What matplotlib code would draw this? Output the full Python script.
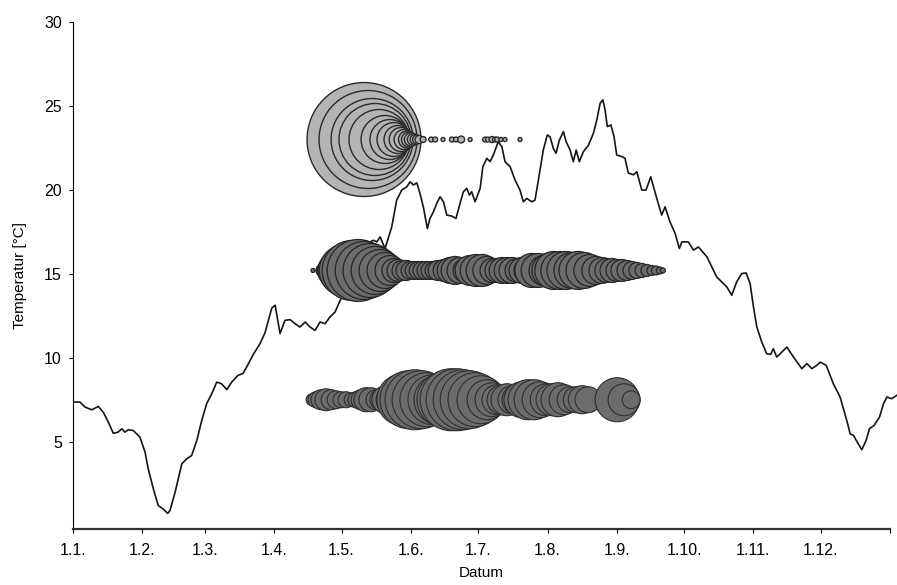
import matplotlib
matplotlib.use("Agg")
from matplotlib import pyplot as plt

plt.rcParams['font.family'] = ['Liberation Sans', 'DejaVu Sans']

# temperature curve: day of year / degC
temp_day = [0.4, 3.1, 5.4, 8.4, 11.3, 13.5, 15.8, 18.0, 20.2, 21.8, 23.2, 24.7, 26.9, 29.9,
            32.2, 33.6, 35.9, 38.1, 40.3, 42.3, 43.3, 45.6, 48.6, 50.8, 53.0, 55.3, 57.5,
            59.7, 62.0, 64.2, 66.4, 68.7, 70.9, 73.7, 76.0, 78.2, 80.4, 83.6, 85.8, 88.8,
            90.3, 92.5, 94.7, 97.0, 99.2, 101.4, 103.7, 105.9, 108.1, 110.4, 112.6, 114.8,
            117.1, 119.3, 122.9, 126.0, 129.1, 132.7, 134.2, 135.7, 137.2, 139.4, 142.4,
            144.6, 146.9, 149.1, 150.6, 152.1, 153.6, 155.0, 156.5, 158.3, 159.5, 161.0,
            162.5, 164.0, 165.5, 167.0, 169.2, 171.1, 172.9, 174.4, 175.9, 177.1, 178.1,
            179.6, 181.9, 183.1, 184.9, 186.3, 187.8, 190.0, 191.6, 193.0, 195.3, 197.5,
            199.7, 201.2, 202.7, 205.0, 206.4, 207.9, 210.1, 211.9, 213.1, 214.6, 215.8,
            217.3, 219.1, 220.3, 222.1, 223.5, 224.8, 226.2, 228.0, 230.3, 232.5, 234.0,
            235.5, 236.7, 237.7, 238.7, 240.3, 241.7, 242.9, 245.2, 246.6, 248.1, 250.4,
            251.9, 254.1, 256.0, 258.1, 260.8, 263.0, 264.5, 266.7, 269.0, 270.9, 272.0,
            274.9, 277.2, 279.4, 283.2, 287.6, 292.1, 294.3, 296.5, 298.8, 300.7, 302.5,
            304.0, 305.5, 307.7, 309.9, 311.7, 312.9, 314.4, 316.7, 318.9, 321.9, 325.6,
            327.9, 330.1, 332.3, 333.8, 336.5, 339.7, 342.7, 345.7, 347.2, 348.7, 350.4,
            352.4, 354.3, 355.8, 357.9, 360.3, 362.1, 363.6, 365.8, 368.0]
temp_val = [7.36, 7.36, 7.06, 6.9, 7.1, 6.76, 6.16, 5.5, 5.57, 5.77, 5.57, 5.71, 5.67, 5.27,
            4.37, 3.38, 2.19, 1.19, 0.99, 0.73, 0.89, 1.99, 3.68, 3.98, 4.18, 5.07, 6.26,
            7.26, 7.86, 8.55, 8.45, 8.1, 8.55, 8.95, 9.07, 9.6, 10.17, 10.85, 11.5, 12.96,
            13.13, 11.44, 12.23, 12.27, 12.03, 11.83, 12.13, 11.83, 11.63, 12.13, 12.03, 12.43,
            12.73, 13.4, 14.5, 15.3, 16.2, 16.9, 17.0, 16.9, 17.2, 16.5, 17.8,
            19.39, 19.99, 20.18, 20.48, 20.29, 20.42, 19.79, 18.99, 17.7, 18.3, 18.69,
            19.19, 19.59, 19.29, 18.5, 18.44, 18.3, 19.19, 19.89, 20.09, 19.69, 19.89,
            19.29, 20.09, 21.38, 21.88, 21.68, 22.08, 22.87, 22.57, 21.68, 21.38, 20.58,
            19.99, 19.29, 19.49, 19.29, 19.39, 20.58, 22.37, 23.27, 23.17, 22.47, 22.18,
            22.97, 23.47, 22.87, 22.37, 21.68, 22.37, 21.68, 22.27, 22.67, 23.37, 24.16,
            25.16, 25.36, 24.76, 23.77, 23.87, 23.17, 22.08, 21.98, 21.88, 21.0, 20.9,
            21.08, 19.99, 19.99, 20.78, 19.49, 18.5, 18.99, 18.1, 17.4, 16.51, 16.9,
            16.9, 16.41, 16.6, 16.01, 14.81, 14.22, 13.72, 14.52, 15.02, 15.05, 14.42,
            13.03, 11.83, 10.94, 10.24, 10.2, 10.54, 10.04, 10.34, 10.64, 10.04, 9.35,
            9.65, 9.35, 9.55, 9.74, 9.55, 8.45, 7.66, 6.26, 5.47, 5.37, 4.97,
            4.52, 5.07, 5.77, 5.97, 6.46, 7.26, 7.66, 7.56, 7.76]

# bubble rows: day of year and count (bubble area)
top_y = 23.0
top_day = [130.0, 131.8, 133.6, 134.9, 136.7, 139.4, 141.6, 143.4, 145.2, 146.6, 147.9,
           149.2, 150.1, 151.0, 151.9, 152.8, 153.7, 154.6, 156.4, 160.0, 161.8, 165.3,
           169.3, 171.1, 173.4, 177.4, 184.1, 185.4, 187.2, 188.5, 189.5, 191.2, 193.0, 199.7]
top_n = [812, 600, 420, 324, 225, 144, 100, 72, 49, 36, 25,
         18, 14, 11, 8, 6, 5, 4, 2.2, 1.5, 1.5, 1,
         1.5, 1.5, 3, 1, 1.5, 1.5, 2.2, 1.5, 1.5, 1, 1, 1]

mid_y = 15.2
mid_day = [107.2, 111.2, 114.9, 118.4, 121.6, 124.7, 127.4, 130.1, 132.7, 135.0, 137.2,
           139.4, 141.6, 143.4, 145.2, 147.0, 148.8, 150.6, 152.4, 154.2, 155.9, 157.7,
           159.5, 161.3, 163.1, 165.8, 168.5, 170.7, 172.9, 175.2, 177.4, 180.1, 182.8,
           184.9, 187.2, 189.4, 191.7, 193.9, 196.1, 198.4, 200.6, 202.8, 205.0, 207.8,
           210.4, 212.6, 214.8, 217.5, 220.2, 222.9, 225.6, 228.3, 230.9, 233.6, 236.3,
           238.5, 240.8, 243.0, 245.2, 247.5, 249.7, 251.9, 254.2, 256.4, 258.6, 260.4,
           262.2, 263.5]
mid_n = [1, 9, 42, 100, 169, 225, 240, 210, 182, 144, 110,
         81, 56, 36, 30, 25, 25, 20, 20, 20, 20, 20,
         20, 20, 25, 30, 42, 49, 42, 36, 56, 64, 64,
         49, 36, 36, 42, 42, 42, 36, 42, 42, 72, 72,
         56, 72, 90, 90, 90, 81, 90, 81, 64, 49,
         42, 36, 36, 30, 30, 25, 20, 16, 12, 9, 6, 5,
         3, 1.6]

bot_y = 7.5
bot_day = [106.8, 108.6, 110.8, 113.0, 115.3, 117.5, 119.7, 122.0, 124.2, 126.4, 128.7,
           130.9, 133.1, 135.4, 137.6, 139.8, 142.1, 144.7, 147.4, 150.1, 152.8, 155.5,
           158.1, 160.8, 163.5, 166.2, 168.9, 171.6, 174.3, 177.0, 179.6, 182.3, 185.0,
           187.2, 189.4, 191.7, 193.9, 196.1, 198.4, 200.6, 203.3, 206.0, 208.7, 211.4,
           214.0, 216.7, 219.4, 222.1, 224.8, 227.5, 230.1, 243.1, 246.2, 249.4]
bot_n = [9, 16, 25, 30, 25, 20, 16, 16, 12, 16, 25,
         36, 36, 25, 30, 49, 56, 100, 169, 210, 225, 210,
         182, 156, 156, 196, 240, 240, 225, 210, 182, 144, 100,
         72, 56, 56, 64, 49, 56, 81, 100, 100, 81, 64,
         64, 72, 56, 42, 42, 49, 42, 121, 64, 20]

month_days = [0, 31, 59, 90, 120, 151, 181, 212, 243, 273, 304, 334, 365]
month_labels = ["1.1.", "1.2.", "1.3.", "1.4.", "1.5.", "1.6.", "1.7.", "1.8.", "1.9.",
                "1.10.", "1.11.", "1.12.", ""]

AREA = 8.29  # pt^2 per count at 100 dpi

fig = plt.figure(figsize=(8.97, 5.85), dpi=100)
ax = fig.add_axes([0.0814, 1 - 529 / 585, 0.9108, (529 - 22) / 585])

ax.plot(temp_day, temp_val, color="#151515", linewidth=1.2, clip_on=False, zorder=2)

ax.scatter(top_day, [top_y] * len(top_day), s=[n * AREA for n in top_n],
           facecolor="#b4b4b4", edgecolor="#2a2a2a", linewidth=1.0, zorder=3, clip_on=False)
ax.scatter(mid_day, [mid_y] * len(mid_day), s=[n * AREA for n in mid_n],
           facecolor="#6c6c6c", edgecolor="#262626", linewidth=0.9, zorder=3, clip_on=False)
ax.scatter(bot_day, [bot_y] * len(bot_day), s=[n * AREA for n in bot_n],
           facecolor="#6c6c6c", edgecolor="#2e2e2e", linewidth=0.8, zorder=3, clip_on=False)

ax.set_xlim(0, 365)
ax.set_ylim(-0.2, 30)
ax.set_xticks(month_days)
ax.set_xticklabels(month_labels)
ax.set_yticks([5, 10, 15, 20, 25, 30])

ax.spines['top'].set_visible(False)
ax.spines['right'].set_visible(False)
ax.spines['left'].set_linewidth(0.8)
ax.spines['bottom'].set_linewidth(1.6)
ax.spines['bottom'].set_color("#333333")
ax.tick_params(axis="x", direction="out", length=3, pad=7, labelsize=11.5)
ax.tick_params(axis="y", direction="out", length=3, pad=5, labelsize=11.5)

ax.set_xlabel("Datum", fontsize=11, labelpad=6)
ax.set_ylabel("Temperatur [°C]", fontsize=11, labelpad=12)

plt.savefig("out.png", dpi=100)
